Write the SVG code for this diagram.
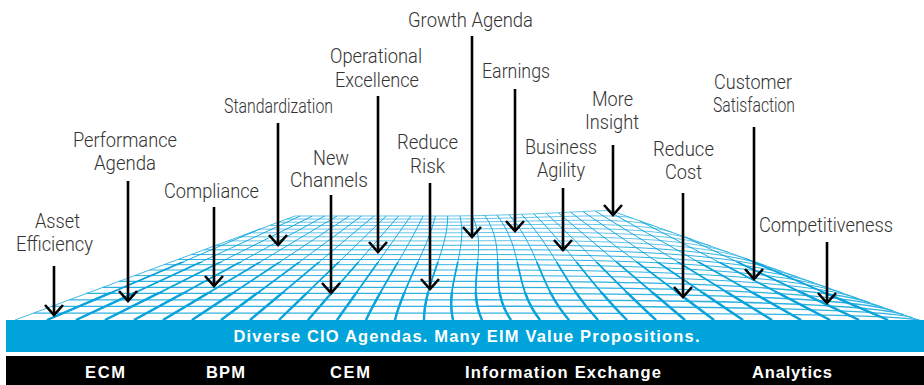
<svg xmlns="http://www.w3.org/2000/svg" xmlns:xlink="http://www.w3.org/1999/xlink" width="924" height="385" viewBox="0 0 924 385">
<defs>
<style>
.lbl{font-family:Roboto,"Liberation Sans",sans-serif;font-weight:300;font-size:20px;fill:#333333;text-anchor:middle}
.bw{font-family:"Liberation Sans",Arial,sans-serif;font-weight:bold;fill:#ffffff;text-anchor:middle}
.arr{stroke:#000;stroke-width:2.6;fill:none;marker-end:url(#ah)}
.row{fill:none;stroke:#2fb2e2}
.r1{stroke-width:1.3}
.r2{stroke-width:1}
.r3{stroke-width:0.75}
.col{fill:none;stroke:#0aa2da}
.edge{fill:none;stroke:#2fb2e2;stroke-width:0.9}
</style>
<marker id="ah" markerUnits="userSpaceOnUse" markerWidth="30" markerHeight="30" viewBox="-15 -15 30 30" refX="0" refY="0" orient="auto" overflow="visible">
<path d="M-10,-9 L0,0 L-10,9" fill="none" stroke="#000" stroke-width="2.6"/>
</marker>
<clipPath id="cm"><rect x="0" y="262" width="924" height="70"/></clipPath>
<clipPath id="cf"><rect x="0" y="292" width="924" height="40"/></clipPath>
<g id="cols">
<path d="M47,320 L260,229"/>
<path d="M76,320 L300.1,216"/>
<path d="M105,320 L312.4,216"/>
<path d="M134,320 L324.7,216"/>
<path d="M163,320 L337,216"/>
<path d="M192,320 L349.3,216"/>
<path d="M221,320 L361.6,216"/>
<path d="M250,320 L373.9,216"/>
<path d="M279,320 L386.2,216"/>
<path d="M308,320 L398.5,216"/>
<path d="M337,320 L410.8,216"/>
<path d="M366,320 C382.3,285.3 406.8,250.7 423.1,216"/>
<path d="M395,320 C403.2,285.3 427.2,250.7 435.4,216"/>
<path d="M424,320 C423.9,285.3 447.8,250.7 447.7,216"/>
<path d="M453,320 C444.6,285.3 468.4,250.6 460,215.9"/>
<path d="M482,320 C465.5,285.2 488.8,250.4 472.3,215.6"/>
<path d="M511,320 C486.2,285.1 509.4,250.2 484.6,215.3"/>
<path d="M540,320 C512.3,285 524.6,250.1 496.9,215.1"/>
<path d="M569,320 C538.4,284.9 539.8,249.9 509.2,214.8"/>
<path d="M598,320 C564.5,284.8 555,249.6 521.5,214.4"/>
<path d="M627,320 C590.6,284.6 570.2,249.3 533.8,213.9"/>
<path d="M656,320 C616.7,284.4 585.4,248.9 546.1,213.3"/>
<path d="M685,320 L558.4,212.8"/>
<path d="M714,320 L570.7,212.3"/>
<path d="M743,320 L583,211.6"/>
<path d="M772,320 L595.3,211"/>
<path d="M801,320 L607.6,210.7"/>
<path d="M830,320 L640,221"/>
<path d="M859,320 L685,237"/>
<path d="M888,320 L745,258.3"/>
</g>
</defs>
<rect width="924" height="385" fill="#ffffff"/>
<g id="surface">
<g id="rows" class="row">
<path class="r1" d="M33.6,313.1 L440,313.1 C530,313.1 895.3,311.6 919.6,320.4"/>
<path class="r1" d="M51.9,306.3 L440,306.3 C530,306.3 876.3,304.8 912.5,317.9"/>
<path class="r1" d="M69.4,299.8 L440,299.8 C530,299.8 858.1,298.3 903.4,314.7"/>
<path class="r1" d="M86.6,293.4 L440,293.4 C530,293.4 840.3,291.9 893.4,311.1"/>
<path class="r1" d="M103,287.3 L440,287.3 C530,287.3 823.3,285.8 882.2,307.1"/>
<path class="r1" d="M119.2,281.3 L440,281.3 C530,281.3 806.4,279.8 870,302.8"/>
<path class="r2" d="M134.5,275.6 L440,275.6 C530,275.6 790.5,274.1 856.9,298.1"/>
<path class="r2" d="M149.6,270 L440,270 C530,270 774.6,268.5 843.2,293.3"/>
<path class="r2" d="M163.9,264.7 L440,264.7 C530,264.7 760,263.2 828.8,288.1"/>
<path class="r2" d="M177.9,259.5 L440,259.5 C530,259.5 745.3,258 813.6,282.7"/>
<path class="r2" d="M191.1,254.6 L440,254.6 C530,254.6 729.9,252.6 797.9,277.2"/>
<path class="r2" d="M204,249.8 L440,249.8 C530,249.8 715,247.3 781.4,271.3"/>
<path class="r2" d="M216.1,245.3 L440,245.3 C530,245.3 701,242.3 764.6,265.3"/>
<path class="r3" d="M227.9,240.9 L440,240.9 C530,240.9 687.1,237.4 747.1,259.1"/>
<path class="r3" d="M239,236.8 L440,236.8 C530,236.8 674.3,232.8 729.3,252.7"/>
<path class="r3" d="M249.7,232.8 L440,232.8 C530,232.8 661.4,228.3 710.9,246.2"/>
<path class="r3" d="M259.7,229.1 L440,229.1 C530,229.1 649.6,224.1 691.9,239.4"/>
<path class="r3" d="M269.4,225.5 L440,225.5 C530,225.5 637.9,220 672.5,232.5"/>
<path class="r3" d="M278.3,222.2 L440,222.2 C530,222.2 627.2,216.2 652.9,225.5"/>
<path class="r3" d="M286.9,219 L440,219 C530,219 616.6,212.5 632.6,218.3"/>
<path class="r3" d="M295,216 L440,216 C530,216 606.5,209 612,211"/>
</g>
<path class="edge" d="M15,320 L295,216"/>
<path class="edge" d="M612,211 L924,322"/>
<g id="columns">
<use xlink:href="#cols" class="col" stroke-width="0.9"/>
<use xlink:href="#cols" class="col" stroke-width="1.7" clip-path="url(#cm)"/>
<use xlink:href="#cols" class="col" stroke-width="2.4" clip-path="url(#cf)"/>
</g>
</g>
<g id="band-agendas">
<rect x="6" y="320" width="918" height="32" fill="#00a4da"/>
<text class="bw" x="466.5" y="341.7" font-size="16.5" textLength="466">Diverse CIO Agendas. Many EIM Value Propositions.</text>
</g>
<g id="band-products">
<rect x="6" y="356" width="918" height="29" fill="#000000"/>
<text class="bw" x="105" y="378" font-size="16.5" textLength="40">ECM</text>
<text class="bw" x="225.5" y="378" font-size="16.5" textLength="39">BPM</text>
<text class="bw" x="350" y="378" font-size="16.5" textLength="40">CEM</text>
<text class="bw" x="563" y="378" font-size="16.5" textLength="196">Information Exchange</text>
<text class="bw" x="792" y="378" font-size="16.5" textLength="80">Analytics</text>
</g>
<g id="node-asset-efficiency"><text class="lbl" x="57.5" y="227.7" textLength="45" lengthAdjust="spacingAndGlyphs">Asset</text><text class="lbl" x="54.5" y="251" textLength="77" lengthAdjust="spacingAndGlyphs">Efficiency</text></g>
<g id="node-performance-agenda"><text class="lbl" x="125" y="146.7" textLength="104" lengthAdjust="spacingAndGlyphs">Performance</text><text class="lbl" x="125" y="170" textLength="62" lengthAdjust="spacingAndGlyphs">Agenda</text></g>
<g id="node-compliance"><text class="lbl" x="211.5" y="197.7" textLength="95" lengthAdjust="spacingAndGlyphs">Compliance</text></g>
<g id="node-standardization"><text class="lbl" x="278.5" y="112.7" textLength="109" lengthAdjust="spacingAndGlyphs">Standardization</text></g>
<g id="node-new-channels"><text class="lbl" x="331" y="165" textLength="36" lengthAdjust="spacingAndGlyphs">New</text><text class="lbl" x="329" y="186.7" textLength="78" lengthAdjust="spacingAndGlyphs">Channels</text></g>
<g id="node-operational-excellence"><text class="lbl" x="376" y="63.3" textLength="92" lengthAdjust="spacingAndGlyphs">Operational</text><text class="lbl" x="377" y="86.7" textLength="84" lengthAdjust="spacingAndGlyphs">Excellence</text></g>
<g id="node-reduce-risk"><text class="lbl" x="427.5" y="149.3" textLength="61" lengthAdjust="spacingAndGlyphs">Reduce</text><text class="lbl" x="427.5" y="172.7" textLength="35" lengthAdjust="spacingAndGlyphs">Risk</text></g>
<g id="node-growth-agenda"><text class="lbl" x="470.5" y="26.7" textLength="125" lengthAdjust="spacingAndGlyphs">Growth Agenda</text></g>
<g id="node-earnings"><text class="lbl" x="516" y="78.3" textLength="68" lengthAdjust="spacingAndGlyphs">Earnings</text></g>
<g id="node-business-agility"><text class="lbl" x="561" y="154.3" textLength="72" lengthAdjust="spacingAndGlyphs">Business</text><text class="lbl" x="561" y="177.3" textLength="48" lengthAdjust="spacingAndGlyphs">Agility</text></g>
<g id="node-more-insight"><text class="lbl" x="612.5" y="106" textLength="41" lengthAdjust="spacingAndGlyphs">More</text><text class="lbl" x="612" y="129" textLength="54" lengthAdjust="spacingAndGlyphs">Insight</text></g>
<g id="node-reduce-cost"><text class="lbl" x="683.5" y="155.7" textLength="61" lengthAdjust="spacingAndGlyphs">Reduce</text><text class="lbl" x="683.5" y="179.3" textLength="37" lengthAdjust="spacingAndGlyphs">Cost</text></g>
<g id="node-customer-satisfaction"><text class="lbl" x="753" y="89.3" textLength="78" lengthAdjust="spacingAndGlyphs">Customer</text><text class="lbl" x="754" y="111.7" textLength="82" lengthAdjust="spacingAndGlyphs">Satisfaction</text></g>
<g id="node-competitiveness"><text class="lbl" x="826" y="231.7" textLength="134" lengthAdjust="spacingAndGlyphs">Competitiveness</text></g>
<g id="connectors">
<path class="arr" d="M54,266 L54,315"/>
<path class="arr" d="M128,181 L128,301"/>
<path class="arr" d="M214,207 L214,286"/>
<path class="arr" d="M278,123 L278,245"/>
<path class="arr" d="M331,195 L331,293"/>
<path class="arr" d="M378,96 L378,252"/>
<path class="arr" d="M430,183 L430,289"/>
<path class="arr" d="M472,36 L472,237"/>
<path class="arr" d="M515,89 L515,231"/>
<path class="arr" d="M563,188 L563,250"/>
<path class="arr" d="M613,145 L613,215"/>
<path class="arr" d="M683,193 L683,297"/>
<path class="arr" d="M754,127 L754,279"/>
<path class="arr" d="M827,242 L827,303"/>
</g>
</svg>
